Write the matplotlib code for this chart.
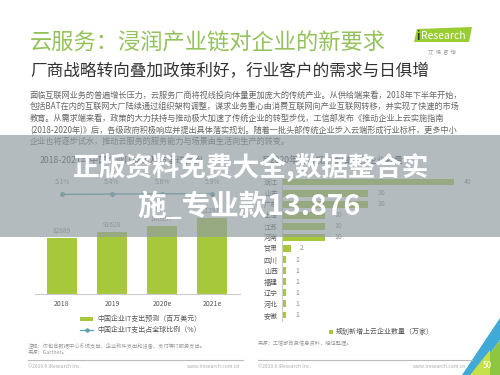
import matplotlib
matplotlib.use("Agg")
import matplotlib.pyplot as plt
from matplotlib.patches import Rectangle, Polygon

plt.rcParams['font.family'] = ['Noto Sans CJK SC', 'DejaVu Sans']

# left chart data
years = ['2018', '2019', '2020e', '2021e']
it_spend = [82889, 91628, 100197, 112917]
share_pct = [5.1, 5.4, 5.6, 5.9]

# right chart data
provinces = ['浙江', '山东', '广东', '上海', '江苏', '河南', '甘肃',
             '四川', '山西', '福建', '辽宁', '河北', '安徽']
new_cloud = [40, 20, 20, 10, 10, 10, 2, 1, 1, 1, 1, 1, 1]

title = '云服务：浸润产业链对企业的新要求'
subtitle = '厂商战略转向叠加政策利好，行业客户的需求与日俱增'
body = [
    '面临互联网业务的普遍增长压力，云服务厂商将视线投向体量更加庞大的传统产业。从供给端来看，2018年下半年开始，',
    '包括BAT在内的互联网大厂陆续通过组织架构调整，谋求业务重心由消费互联网向产业互联网转移，并实现了快速的市场',
    '教育。从需求端来看，政策的大力扶持与推动极大加速了传统企业的转型步伐，工信部发布《推动企业上云实施指南',
    '(2018-2020年)》后，各级政府积极响应并提出具体落实规划。随着一批头部传统企业步入云端形成行业标杆，更多中小',
    '企业也将逐步试水，推动云服务的服务能力与场景由生活向生产的转变。',
]
watermark = ['正版资料免费大全,数据整合实', '施_专业款13.876']

GREEN = '#a8c83c'
TEAL = '#5ea3a9'
GRAY = '#8a8a8a'
W, H = 500, 375

fig = plt.figure(figsize=(5, 3.75), dpi=100)
fig.patch.set_facecolor('white')


def box(l, t, r, b):
    return [l / W, 1 - b / H, (r - l) / W, (b - t) / H]


# ---- left chart: IT spend bars + share line
ax = fig.add_axes(box(35, 170, 240, 294))
x = range(len(years))
ax.bar(x, it_spend, width=0.6, color=GREEN, zorder=2)
for i, v in enumerate(it_spend):
    ax.text(i, v + 4500, str(v), ha='center', va='bottom', fontsize=4.8, color=GRAY)
ax.set_xlim(-0.54, 3.56)
ax.set_ylim(0, 183500)
ax.set_xticks(list(x))
ax.set_xticklabels(years, fontsize=5, color='#555555')
ax.tick_params(axis='x', length=0, pad=4)
ax.set_yticks([])
for s in ['top', 'right', 'left']:
    ax.spines[s].set_visible(False)
ax.spines['bottom'].set_color('#cccccc')
ax.spines['bottom'].set_linewidth(0.8)

ax2 = ax.twinx()
ax2.plot(x, share_pct, color=TEAL, lw=1.0, marker='o', ms=2.5)
for i, v in enumerate(share_pct):
    ax2.text(i, v + 8, f'{v}%', ha='center', va='bottom', fontsize=4.8, color=GRAY)
ax2.set_ylim(-94.5, 29.5)
ax2.axis('off')

# ---- right chart: planned new cloud companies
axr = fig.add_axes(box(282, 176.5, 497, 320.5))
axr.barh(range(len(provinces)), new_cloud, height=0.62, color=GREEN)
for i, v in enumerate(new_cloud):
    axr.text(v + 2.2, i, str(v), va='center', ha='left', fontsize=5, color=GRAY)
axr.set_ylim(len(provinces) - 0.5, -0.5)
axr.set_xlim(0, 50)
axr.set_yticks(range(len(provinces)))
axr.set_yticklabels(provinces, fontsize=5, color='#555555')
axr.tick_params(axis='y', length=0, pad=3)
axr.set_xticks([])
for s in ['top', 'right', 'bottom']:
    axr.spines[s].set_visible(False)
axr.spines['left'].set_color('#cccccc')
axr.spines['left'].set_linewidth(0.8)

# ---- page layer (text, legends, footer)
pg = fig.add_axes([0, 0, 1, 1], zorder=-1)
pg.set_xlim(0, W)
pg.set_ylim(H, 0)
pg.axis('off')

pg.text(30, 43, title, fontsize=16, color='#93c25a', va='center', ha='left')
pg.text(30, 71, subtitle, fontsize=12, color='#333333', va='center', ha='left')
for i, line in enumerate(body):
    pg.text(30, 95 + i * 11.7, line, fontsize=5.9, color='#666666', va='center', ha='left')

# logo
pg.add_patch(Polygon([(417, 29), (472, 27), (469, 42), (414, 42)], closed=True,
                     color='#9acd32', lw=0))
pg.text(416, 36, 'i', fontsize=8, color='#333333', va='center', ha='left', fontweight='bold')
pg.text(421, 36, 'Research', fontsize=7.5, color='white', va='center', ha='left')
pg.text(442, 52, '艾  瑞  咨  询', fontsize=3.8, color='#999999', va='center', ha='center')

# chart titles (under the band)
pg.text(40, 160, '2018-2021年中国企业IT支出及占全球比例', fontsize=6.3, color='#444444',
        va='center', ha='left')
pg.text(262, 160, '至2020年各省规划新增上云企业数量', fontsize=6.3, color='#444444',
        va='center', ha='left')

# left legend
pg.add_patch(Rectangle((80, 316.5), 13, 4, color=GREEN, lw=0))
pg.text(97, 319, '中国企业IT支出预测（百万美元）', fontsize=5, color='#555555', va='center')
pg.plot([80, 93], [330, 330], color=TEAL, lw=0.9)
pg.plot([86.5], [330], 'o', color=TEAL, ms=2.2)
pg.text(97, 330, '中国企业IT支出占全球比例（%）', fontsize=5, color='#555555', va='center')

# right legend
pg.add_patch(Rectangle((329, 329.5), 4, 4, color=GREEN, lw=0))
pg.text(336, 332, '规划新增上云企业数量（万家）', fontsize=5, color='#555555', va='center')

# footnotes
pg.text(28, 346, '注释：仅包含数据中心系统支出、企业软件支出和设备、支付等IT服务支出。',
        fontsize=3.8, color='#999999', va='center')
pg.text(28, 353, '来源：Gartner。', fontsize=3.8, color='#999999', va='center')
pg.text(258, 343, '来源：工信部政务信息资料，经也整理。', fontsize=3.8, color='#999999', va='center')
pg.plot([28, 243], [360, 360], color='#bbbbbb', lw=0.8)
pg.plot([258, 472], [360, 360], color='#bbbbbb', lw=0.8)
pg.text(28, 366, '©2019.6 iResearch Inc.', fontsize=3.6, color='#aaaaaa', va='center')
pg.text(240, 366, 'www.iresearch.com.cn', fontsize=3.6, color='#aaaaaa', va='center', ha='right')
pg.text(258, 366, '©2019.6 iResearch Inc.', fontsize=3.6, color='#aaaaaa', va='center')
pg.text(466, 366, 'www.iresearch.com.cn', fontsize=3.6, color='#aaaaaa', va='center', ha='right')

# corner decoration
pg.add_patch(Polygon([(500, 318), (500, 340), (474, 375), (462, 375)], closed=True,
                     color='#3fa9d8', lw=0))
pg.add_patch(Polygon([(500, 340), (500, 375), (474, 375)], closed=True,
                     color='#8dc63f', lw=0))
pg.add_patch(Polygon([(470, 375), (490, 350), (490, 375)], closed=True,
                     color='#c6e04a', lw=0))
pg.text(487, 366, '50', fontsize=6, color='white', va='center', ha='center')

# ---- watermark band on top
top = fig.add_axes([0, 0, 1, 1], zorder=10)
top.set_xlim(0, W)
top.set_ylim(H, 0)
top.axis('off')
top.patch.set_alpha(0)
top.add_patch(Rectangle((0, 135), W, 102, color='#8f9ba1', alpha=0.68, lw=0))
top.text(251, 167, watermark[0], fontsize=19.3, fontweight='bold', color='white',
         va='center', ha='center')
top.text(249, 207, watermark[1], fontsize=20.5, fontweight='bold', color='white',
         va='center', ha='center')

fig.savefig('out.png', dpi=100)
